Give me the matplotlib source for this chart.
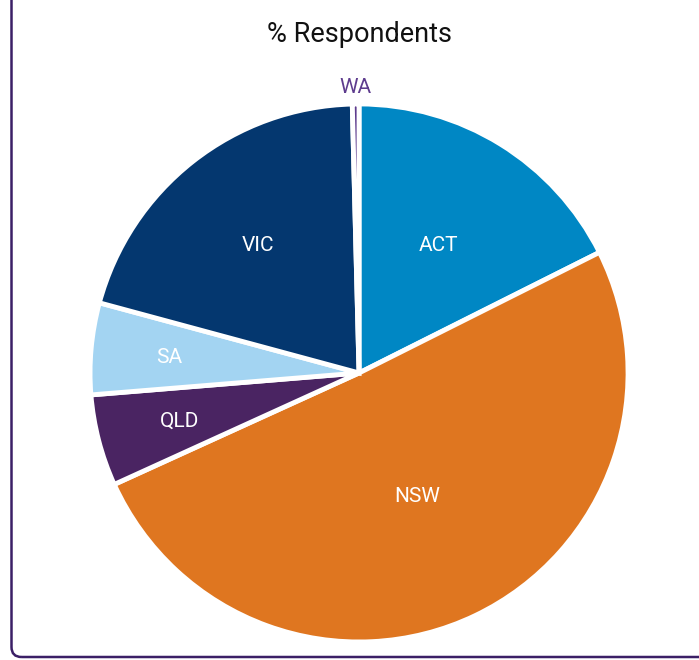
import numpy as np
import matplotlib

matplotlib.use("Agg")
import matplotlib.pyplot as plt
from matplotlib.patches import FancyBboxPatch

plt.rcParams["font.family"] = ["Roboto", "DejaVu Sans"]

STATES = ["ACT", "NSW", "QLD", "SA", "VIC", "WA"]
SHARES = [17.6, 50.6, 5.5, 5.5, 20.4, 0.4]
COLORS = ["#0087c4", "#df7620", "#4a2462", "#a3d4f2", "#04376f", "#5e3c8e"]
LABEL_COLORS = ["white", "white", "white", "white", "white", "#5e3c8e"]
LABEL_RADIUS = [0.565, 0.50, 0.69, 0.71, 0.61, 1.07]

fig = plt.figure(figsize=(6.99, 6.60), dpi=100)
fig.patch.set_facecolor("white")

# panel frame (only left and bottom edges visible)
frame = FancyBboxPatch(
    (0.115, 0.03), 10, 10,
    boxstyle="round,pad=0,rounding_size=0.1",
    transform=fig.dpi_scale_trans,
    facecolor="none", edgecolor="#3b1f66", linewidth=1.8,
)
fig.add_artist(frame)

ax = fig.add_axes([0.1288, 0.0273, 0.7697, 0.8152])
wedges, _ = ax.pie(
    SHARES,
    colors=COLORS,
    startangle=90,
    counterclock=False,
    radius=1.0,
    wedgeprops=dict(edgecolor="white", linewidth=3.5),
)
ax.set_xlim(-1, 1)
ax.set_ylim(-1, 1)
ax.set_aspect("equal")
ax.axis("off")

for w, name, col, r in zip(wedges, STATES, LABEL_COLORS, LABEL_RADIUS):
    mid = np.deg2rad((w.theta1 + w.theta2) / 2)
    ax.text(r * np.cos(mid), r * np.sin(mid), name, color=col,
            ha="center", va="center_baseline", fontsize=15)

fig.text(0.5136, 1 - 35 / 660, "% Respondents", ha="center", va="center",
         fontsize=19.5, color="#111111")

fig.savefig("out.png", dpi=100)
